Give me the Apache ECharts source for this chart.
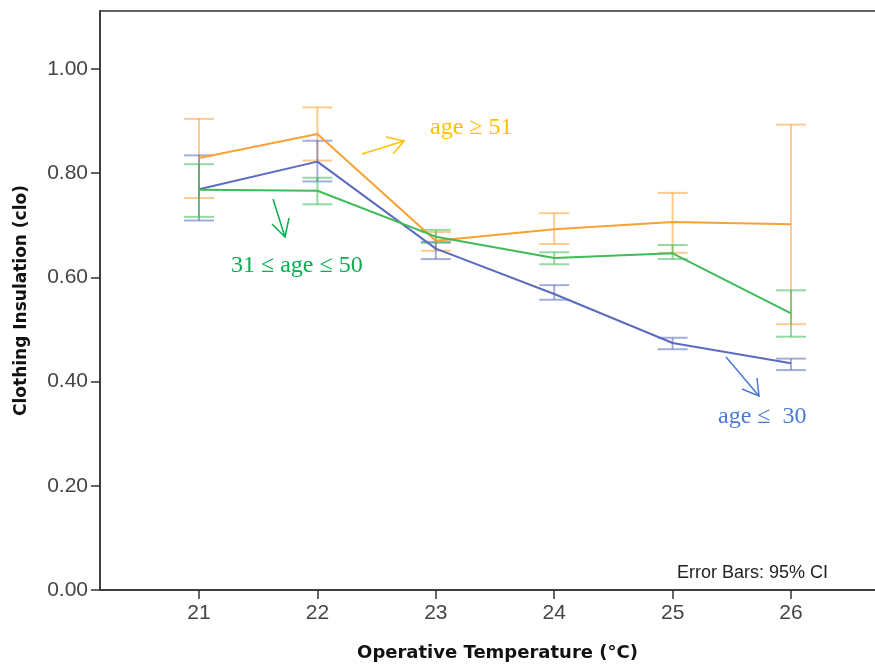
<!DOCTYPE html>
<html>
<head>
<meta charset="utf-8">
<script src="https://cdn.jsdelivr.net/npm/echarts@6/dist/echarts.min.js"></script>
<style>
  html, body { margin: 0; padding: 0; background: #fff; }
  #main { width: 875px; height: 664px; }
</style>
</head>
<body>
<div id="main"></div>
<script>
// operative temperature (°C)
var temps = [21, 22, 23, 24, 25, 26];

// age <= 30
var young = [0.769, 0.822, 0.655, 0.568, 0.474, 0.435];
var youngLow = [0.709, 0.784, 0.635, 0.557, 0.462, 0.422];
var youngHigh = [0.834, 0.862, 0.668, 0.585, 0.484, 0.444];

// 31 <= age <= 50
var middle = [0.768, 0.766, 0.678, 0.637, 0.646, 0.531];
var middleLow = [0.716, 0.740, 0.666, 0.625, 0.635, 0.486];
var middleHigh = [0.817, 0.791, 0.691, 0.648, 0.662, 0.575];

// age >= 51
var old = [0.829, 0.875, 0.670, 0.692, 0.706, 0.702];
var oldLow = [0.752, 0.824, 0.651, 0.664, 0.647, 0.510];
var oldHigh = [0.904, 0.926, 0.687, 0.723, 0.762, 0.893];

var yTicks = [0, 0.2, 0.4, 0.6, 0.8, 1.0];

var colors = {
    old: "#F7A136",
    young: "#5A6BC0",
    middle: "#3EBC58"
};

function pairs(ys) {
    var out = [];
    for (var i = 0; i < temps.length; i++) {
        out.push([temps[i], ys[i]]);
    }
    return out;
}

function ciData(low, high) {
    var out = [];
    for (var i = 0; i < temps.length; i++) {
        out.push([temps[i], low[i], high[i]]);
    }
    return out;
}

// error bar: whisker + two caps
function errorBar(color) {
    return function (params, api) {
        var x = api.value(0);
        var lo = api.coord([x, api.value(1)]);
        var hi = api.coord([x, api.value(2)]);
        var half = 15;
        var style = { stroke: color, lineWidth: 2, opacity: 0.55 };
        return {
            type: "group",
            children: [
                { type: "line", shape: { x1: hi[0], y1: hi[1], x2: lo[0], y2: lo[1] }, style: style },
                { type: "line", shape: { x1: hi[0] - half, y1: hi[1], x2: hi[0] + half, y2: hi[1] }, style: style },
                { type: "line", shape: { x1: lo[0] - half, y1: lo[1], x2: lo[0] + half, y2: lo[1] }, style: style }
            ]
        };
    };
}

function meanLine(name, ys, color) {
    return {
        name: name,
        type: "line",
        data: pairs(ys),
        symbol: "none",
        z: 5,
        lineStyle: { color: color, width: 2 }
    };
}

function ciSeries(low, high, color) {
    return {
        type: "custom",
        data: ciData(low, high),
        renderItem: errorBar(color),
        encode: { x: 0, y: [1, 2] },
        z: 3,
        silent: true
    };
}

var serif = "'Liberation Serif', 'DejaVu Serif', serif";

var myChart = echarts.init(document.getElementById("main"), null, { renderer: "canvas" });

var option = {
    animation: false,
    backgroundColor: "#fff",
    grid: {
        left: 100,
        top: 11,
        right: -20,
        bottom: 74,
        outerBoundsMode: "none",
        containLabel: false,
        show: true,
        borderColor: "#333",
        borderWidth: 1.5
    },
    xAxis: {
        type: "value",
        min: 20.164,
        max: 26.878,
        name: "Operative Temperature (°C)",
        nameLocation: "middle",
        nameGap: 54,
        nameTextStyle: { fontFamily: "DejaVu Sans", fontWeight: "bold", fontSize: 18, color: "#111" },
        axisLine: { lineStyle: { color: "#333", width: 1.5 } },
        axisTick: { customValues: temps, length: 9, inside: false, lineStyle: { color: "#333", width: 1.5 } },
        axisLabel: {
            customValues: temps,
            margin: 13,
            fontFamily: "Liberation Sans",
            fontSize: 21,
            color: "#444"
        },
        splitLine: { show: false }
    },
    yAxis: {
        type: "value",
        min: 0,
        max: 1.111,
        name: "Clothing Insulation (clo)",
        nameLocation: "middle",
        nameGap: 70,
        nameTextStyle: { fontFamily: "DejaVu Sans", fontWeight: "bold", fontSize: 17, color: "#111" },
        axisLine: { show: true, lineStyle: { color: "#333", width: 1.5 } },
        axisTick: { show: true, customValues: yTicks, length: 9, lineStyle: { color: "#333", width: 1.5 } },
        axisLabel: {
            customValues: yTicks,
            margin: 12,
            fontFamily: "Liberation Sans",
            fontSize: 21,
            color: "#444",
            formatter: function (v) { return v.toFixed(2); }
        },
        splitLine: { show: false }
    },
    graphic: [
        { type: "text", left: 677, top: 564, style: { text: "Error Bars: 95% CI", fontFamily: "Liberation Sans", fontSize: 18, fill: "#222" } },
        { type: "text", left: 430, top: 116, style: { text: "age ≥ 51", fontFamily: serif, fontSize: 24, fill: "#FFC000" } },
        { type: "text", left: 231, top: 254, style: { text: "31 ≤ age ≤ 50", fontFamily: serif, fontSize: 24, fill: "#00B050" } },
        { type: "text", left: 718, top: 405, style: { text: "age ≤  30", fontFamily: serif, fontSize: 24, fill: "#4A7BD0" } },
        // arrows
        { type: "polyline", shape: { points: [[362, 154], [404, 141]] }, style: { stroke: "#FFC000", lineWidth: 1.5 } },
        { type: "polyline", shape: { points: [[386, 137], [404, 141], [393, 154]] }, style: { stroke: "#FFC000", lineWidth: 1.5, fill: null } },
        { type: "polyline", shape: { points: [[273, 199], [285, 237]] }, style: { stroke: "#00B050", lineWidth: 1.5 } },
        { type: "polyline", shape: { points: [[272, 224], [285, 237], [289, 218]] }, style: { stroke: "#00B050", lineWidth: 1.5, fill: null } },
        { type: "polyline", shape: { points: [[726, 357], [759, 396]] }, style: { stroke: "#4A7BD0", lineWidth: 1.5 } },
        { type: "polyline", shape: { points: [[742, 389], [759, 396], [757, 378]] }, style: { stroke: "#4A7BD0", lineWidth: 1.5, fill: null } }
    ],
    series: [
        ciSeries(oldLow, oldHigh, colors.old),
        ciSeries(youngLow, youngHigh, colors.young),
        ciSeries(middleLow, middleHigh, colors.middle),
        meanLine("age ≥ 51", old, colors.old),
        meanLine("age ≤ 30", young, colors.young),
        meanLine("31 ≤ age ≤ 50", middle, colors.middle)
    ]
};

myChart.setOption(option);
</script>
</body>
</html>
